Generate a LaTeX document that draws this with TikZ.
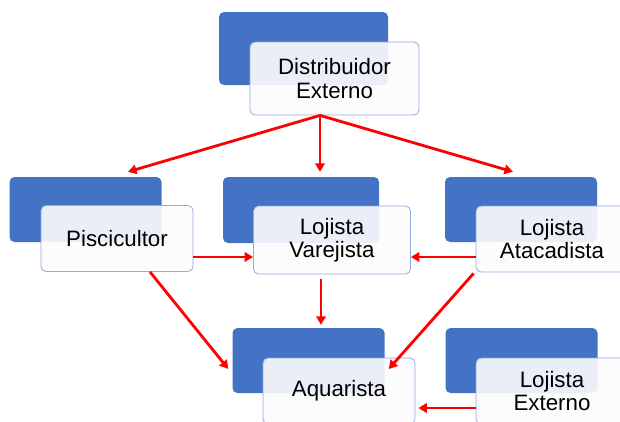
\documentclass[tikz,border=0pt]{standalone}
\usepackage{fontspec}
\setmainfont{Liberation Sans}
\usetikzlibrary{arrows.meta, positioning}
\definecolor{backblue}{RGB}{68,114,196}
\definecolor{frontedge}{RGB}{143,170,220}
\definecolor{frontfill}{RGB}{252,252,253}
\definecolor{flowred}{RGB}{255,0,0}
\tikzset{
  back/.style  = {rectangle, rounded corners=5pt, fill=backblue, draw=none,
                  minimum width=152pt, minimum height=65pt},
  front/.style = {rectangle, rounded corners=5pt, draw=frontedge, line width=0.8pt,
                  fill=frontfill, fill opacity=0.9, draw opacity=1,
                  text opacity=1, minimum width=152pt, minimum height=66pt,
                  align=center, inner sep=2pt, font=\fontsize{22.3}{23.5}\selectfont},
  flow/.style  = {-{Triangle[length=8.5pt,width=9.5pt]}, line width=2.8pt, color=flowred},
}

\begin{document}
\begin{tikzpicture}[x=1pt, y=-1pt]
\clip (0,0) rectangle (620,421);

% top
\node[back, minimum width=169pt, minimum height=73pt] (distB) at (303.5,48.5) {};
\node[front, minimum width=169pt, minimum height=73pt] (dist) at (334.5,78.5) {Distribuidor\\Externo};

% middle row
\node[back] (piscB) at (85.5,209.5) {};
\node[front] (pisc) at (117,238.5) {Piscicultor};
\node[back, minimum width=156pt, minimum height=66pt] (varejB) at (301,210) {};
\node[front, minimum width=157pt, minimum height=68pt] (varej) at (332,240) {Lojista\\Varejista};
\node[back] (atacB) at (521,209.5) {};
\node[front] (atac) at (552,239) {Lojista\\Atacadista};

% bottom row
\node[back] (aquarB) at (308.5,360.5) {};
\node[front] (aquar) at (339,391) {Aquarista};
\node[back] (extB) at (521.5,360.5) {};
\node[front] (ext) at (552,391) {Lojista\\Externo};

\draw[flow] ([xshift=-14.5pt]dist.south) -- ([xshift=42.5pt, yshift=5pt]piscB.north);
\draw[flow] ([xshift=-14.5pt]dist.south) -- ([xshift=19pt, yshift=5pt]varejB.north);
\draw[flow] ([xshift=-14.5pt]dist.south) -- ([xshift=-8pt, yshift=5pt]atacB.north);

\draw[flow] ([yshift=-18.5pt]pisc.east) -- ([yshift=-17pt]varej.west);
\draw[flow] ([yshift=-18pt]atac.west) -- ([yshift=-17pt]varej.east);
\draw[flow] ([xshift=-11pt, yshift=-5pt]varej.south) -- ([xshift=12.5pt, yshift=3pt]aquarB.north);
\draw[flow] ([xshift=33pt]pisc.south) -- ([xshift=-4pt, yshift=-8.5pt]aquarB.west);
\draw[flow] ([xshift=-2pt, yshift=-1pt]atac.south west) -- ([xshift=4pt, yshift=-8.5pt]aquarB.east);
\draw[flow] ([yshift=-17pt]ext.west) -- ([xshift=3pt, yshift=-17pt]aquar.east);

\end{tikzpicture}
\end{document}
